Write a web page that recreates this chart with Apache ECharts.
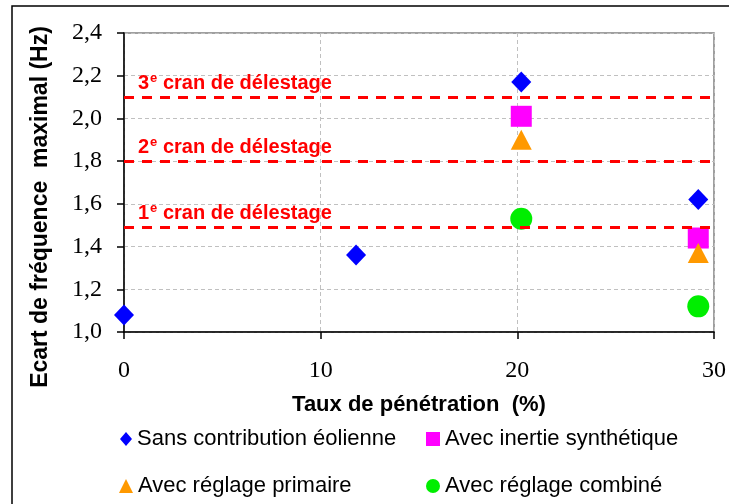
<!DOCTYPE html>
<html><head><meta charset="utf-8">
<script src="https://cdn.jsdelivr.net/npm/echarts@6/dist/echarts.min.js"></script>
<style>html,body{margin:0;padding:0;background:#fff}#c{width:729px;height:504px}</style>
</head><body><div id="c"></div>
<script>
const seriesNames = ['Sans contribution éolienne','Avec inertie synthétique','Avec réglage primaire','Avec réglage combiné'];
const sansContribution = [[0,1.08],[11.8,1.36],[20.2,2.17],[29.2,1.62]];
const inertieSynthetique = [[20.2,2.01],[29.2,1.44]];
const reglagePrimaire = [[20.2,1.90],[29.2,1.37]];
const reglageCombine = [[20.2,1.53],[29.2,1.12]];
const seuilValues = [2.10, 1.80, 1.49];
const seuilRanks = ['3','2','1'];
const xTicks = [0,10,20,30];
const yTicks = [1.0,1.2,1.4,1.6,1.8,2.0,2.2,2.4];

const chart = echarts.init(document.getElementById('c'));
const redLabel = {color:'#ff0000',fontWeight:'bold',fontFamily:'Liberation Sans, Arial',fontSize:20};
const legendText = {fontFamily:'Liberation Sans, Arial',fontSize:22,color:'#000'};
function mkLegend(name,left,top,icon,w,h){
  return {data:[{name:name,icon:icon}],left:left,top:top,itemWidth:w,itemHeight:h,itemGap:0,textStyle:legendText,padding:0,selectedMode:false};
}
const option = {
  animation:false,
  grid:{left:124,right:14,top:33,bottom:172,show:true,borderColor:'#808080',borderWidth:1.5},
  xAxis:{type:'value',min:0,max:30,interval:10,
    axisLine:{onZero:false,lineStyle:{color:'#000',width:1.5}},
    axisTick:{show:true,length:7,lineStyle:{color:'#000',width:1.5}},
    axisLabel:{fontFamily:'Liberation Serif, Times New Roman',fontSize:24,color:'#000',margin:27},
    splitLine:{show:true,lineStyle:{color:'#c0c0c0',type:[4,3],width:1}},
    name:'Taux de pénétration  (%)',nameLocation:'middle',nameGap:62,
    nameTextStyle:{fontFamily:'Liberation Sans, Arial',fontWeight:'bold',fontSize:22,color:'#000'}
  },
  yAxis:{type:'value',min:1.0,max:2.4,interval:0.2,
    axisLine:{show:true,onZero:false,lineStyle:{color:'#000',width:1.5}},
    axisTick:{show:true,length:7,lineStyle:{color:'#000',width:1.5}},
    axisLabel:{fontFamily:'Liberation Serif, Times New Roman',fontSize:24,color:'#000',margin:22,
      formatter:v=>v.toFixed(1).replace('.',',')},
    splitLine:{show:true,lineStyle:{color:'#c0c0c0',type:[4,3],width:1}}
  },
  legend:[
    mkLegend(seriesNames[0],120,428,'diamond',12,14),
    mkLegend(seriesNames[1],426,428,'rect',14,14),
    mkLegend(seriesNames[2],119,475,'triangle',14,14),
    mkLegend(seriesNames[3],426,475,'circle',14,14)
  ],
  graphic:[
    {type:'rect',shape:{x:12,y:6,width:800,height:600},style:{fill:'none',stroke:'#000',lineWidth:1.5},z:-1},
    {type:'text',x:41,y:207,rotation:Math.PI/2,
      style:{text:'Ecart de fréquence  maximal (Hz)',fontFamily:'Liberation Sans, Arial',fontWeight:'bold',fontSize:23,fill:'#000',align:'center',verticalAlign:'middle'}}
  ],
  series:[
    {name:seriesNames[0],type:'scatter',data:sansContribution,symbol:'diamond',symbolSize:[20,21],itemStyle:{color:'#0000ff',opacity:1},z:5,
      markLine:{silent:true,symbol:'none',animation:false,
        lineStyle:{color:'#ff0000',type:[10,8],width:3},
        label:{show:true,position:'insideStartTop',distance:[14,3],
          rich:{n:Object.assign({},redLabel,{lineHeight:22}),s:Object.assign({},redLabel,{fontSize:13,verticalAlign:'top',lineHeight:22,padding:[0,0,8,1]})}},
        data:seuilValues.map((v,i)=>({yAxis:v,label:{formatter:'{n|'+seuilRanks[i]+'}{s|e}{n| cran de délestage}'}}))
      }},
    {name:seriesNames[1],type:'scatter',data:inertieSynthetique,symbol:'rect',symbolSize:21,itemStyle:{color:'#ff00ff',opacity:1},z:4},
    {name:seriesNames[2],type:'scatter',data:reglagePrimaire,symbol:'triangle',symbolSize:[21,20],itemStyle:{color:'#ff9900',opacity:1},z:4},
    {name:seriesNames[3],type:'scatter',data:reglageCombine,symbol:'circle',symbolSize:22,itemStyle:{color:'#00ee00',opacity:1},z:4}
  ]
};
chart.setOption(option);
</script></body></html>
